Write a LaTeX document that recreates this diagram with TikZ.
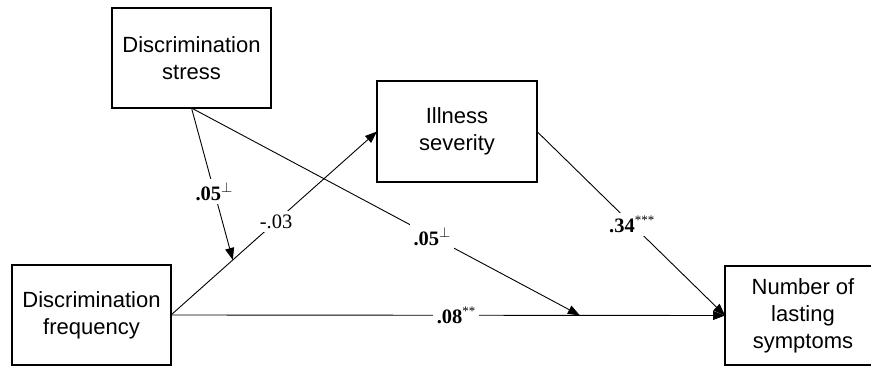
\documentclass[tikz,border=0pt]{standalone}
\usepackage{fontspec}
\setmainfont{Liberation Serif}
\setsansfont{Liberation Sans}
\usepackage{tikz}
\usetikzlibrary{arrows.meta,calc}
\newcommand{\upt}{\textsuperscript{$\perp$}}
\newcommand{\stars}[1]{\textsuperscript{\mdseries\fontsize{13}{13}\selectfont #1}}

\begin{document}
\begin{tikzpicture}[x = 1pt, y = -1pt]
  \useasboundingbox (0,0) rectangle (871,366);
  \tikzset{BoxStyle/.style   = {draw,
                                rectangle,
                                line width     = 1.6pt,
                                align          = center,
                                font           = \sffamily\fontsize{22}{27}\selectfont,
                                inner sep      = 0pt,
                                outer sep      = 0pt}}
  \tikzset{EdgeStyle/.style  = {line width     = 0.9pt,
                                -{Triangle[length=12pt, width=9pt]}}}
  \tikzset{LabelStyle/.style = {fill           = white,
                                inner sep      = 3.5pt,
                                font           = \fontsize{20.5}{23}\selectfont}}
     \node[BoxStyle, minimum width = 159pt, minimum height = 100pt]
          (stress) at (191.5,58) {Discrimination\\stress};
     \node[BoxStyle, minimum width = 160pt, minimum height = 101pt]
          (ill) at (457,131.5) {Illness\\severity};
     \node[BoxStyle, minimum width = 159pt, minimum height = 100pt]
          (freq) at (91.5,315) {Discrimination\\frequency};
     \node[BoxStyle, minimum width = 156pt, minimum height = 99pt]
          (sym) at (803,315.5) {Number of\\lasting\\symptoms};

%    points where the moderating paths meet the direct paths
     \coordinate (m1) at ($(freq.east)!0.30!(ill.west)$);
     \coordinate (m2) at ($(freq.east)!0.738!(sym.west)$);

     \draw[EdgeStyle](freq.east) to node[LabelStyle, pos = 0.51]{-.03} (ill.west);
     \draw[EdgeStyle](freq.east) to node[LabelStyle, pos = 0.515]{\textbf{.08}\stars{**}} (sym.west);
     \draw[EdgeStyle](ill.east) to node[LabelStyle, pos = 0.505]{\textbf{.34}\stars{***}} (sym.west);
     \draw[EdgeStyle](stress.south) to node[LabelStyle, pos = 0.55]{\textbf{.05}\upt} (m1);
     \draw[EdgeStyle](stress.south) to node[LabelStyle, pos = 0.62]{\textbf{.05}\upt} (m2);
  \end{tikzpicture}
\end{document}
